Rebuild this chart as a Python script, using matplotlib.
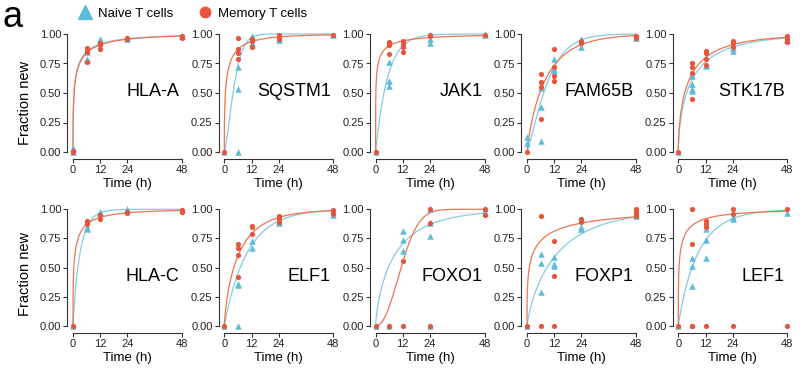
import numpy as np
import matplotlib
matplotlib.use("Agg")
import matplotlib.pyplot as plt
from matplotlib.lines import Line2D

plt.rcParams['font.family'] = ['Liberation Sans', 'DejaVu Sans']

# sampling times (h) and replicate values, one list per time point
times = [0, 6, 12, 24, 48]

hla_a_naive = [[0.03, 0.0], [0.85, 0.79, 0.78], [0.96, 0.95, 0.93], [0.97, 0.96], [0.98, 0.98]]
hla_a_memory = [[0.0, 0.01], [0.88, 0.86, 0.85, 0.76], [0.92, 0.91, 0.87], [0.97, 0.96], [0.98, 0.97]]
sqstm1_naive = [[0.0], [0.72, 0.53, 0.0], [0.98, 0.92, 0.91], [0.96, 0.95], [0.99]]
sqstm1_memory = [[0.0], [0.97, 0.87, 0.84, 0.79], [0.96, 0.94, 0.89], [0.99, 0.97, 0.96], [0.99]]
jak1_naive = [[0.0], [0.76, 0.60, 0.56], [0.92, 0.91], [0.96, 0.92], [0.99, 1.0]]
jak1_memory = [[0.0], [0.93, 0.92, 0.91, 0.83], [0.94, 0.92, 0.89, 0.85], [0.99, 0.98], [0.99]]
fam65b_naive = [[0.13, 0.08], [0.54, 0.38, 0.09], [0.79, 0.70, 0.69], [0.96, 0.89], [0.97]]
fam65b_memory = [[0.0], [0.66, 0.59, 0.55, 0.28], [0.87, 0.72, 0.64, 0.60], [0.94, 0.92], [0.98, 0.97]]
stk17b_naive = [[0.0], [0.64, 0.58, 0.53, 0.52], [0.74, 0.73], [0.88, 0.86], [0.96, 0.95]]
stk17b_memory = [[0.0], [0.75, 0.72, 0.67, 0.45], [0.86, 0.84, 0.79, 0.74], [0.94, 0.92, 0.89], [0.98, 0.96, 0.93]]
hla_c_naive = [[0.0], [0.85, 0.83], [0.98, 0.97], [1.0], [0.99]]
hla_c_memory = [[0.0], [0.90, 0.89, 0.87], [0.95, 0.92], [0.98, 0.97], [0.99, 0.98]]
elf1_naive = [[0.0], [0.36, 0.35, 0.0], [0.73, 0.67], [0.89, 0.88], [0.95]]
elf1_memory = [[0.0], [0.70, 0.67, 0.61, 0.42], [0.86, 0.85, 0.79], [0.94, 0.92, 0.89], [0.99, 0.97, 0.96]]
foxo1_naive = [[0.0], [0.0], [0.81, 0.74, 0.64], [1.0, 0.88, 0.77, 0.0], [1.0, 0.97]]
foxo1_memory = [[0.0], [0.0], [0.56, 0.0], [1.0, 0.88, 0.0], [1.0, 0.95]]
foxp1_naive = [[0.0], [0.62, 0.54, 0.29], [0.59, 0.53, 0.51], [0.85, 0.83], [0.94]]
foxp1_memory = [[0.0], [0.94, 0.0], [0.73, 0.43, 0.0], [0.92, 0.90, 0.89], [1.0, 0.98, 0.96, 0.94]]
lef1_naive = [[0.0], [0.58, 0.51, 0.34], [0.83, 0.74, 0.58], [0.93, 0.92], [0.97]]
lef1_memory = [[0.0], [1.0, 0.70, 0.0, 0.0], [0.90, 0.87, 0.85, 0.0], [1.0, 0.96, 0.0], [1.0, 0.0]]

# fitted curves: two (time, value) points each curve passes through
hla_a_fit = [(6, 0.85, 48, 0.985), (6, 0.84, 48, 0.983)]
sqstm1_fit = [(6, 0.73, 12, 0.97), (6, 0.87, 24, 0.975)]
jak1_fit = [(6, 0.68, 24, 0.99), (6, 0.90, 24, 0.97)]
fam65b_fit = [(6, 0.42, 24, 0.95), (6, 0.52, 24, 0.91)]
stk17b_fit = [(6, 0.61, 24, 0.89), (6, 0.66, 24, 0.91)]
hla_c_fit = [(6, 0.84, 12, 0.97), (6, 0.87, 24, 0.97)]
elf1_fit = [(6, 0.45, 24, 0.90), (6, 0.60, 24, 0.93)]
foxo1_fit = [(6, 0.52, 24, 0.87), (12, 0.55, 24, 0.97)]
foxp1_fit = [(6, 0.40, 48, 0.935), (6, 0.73, 48, 0.935)]
lef1_fit = [(6, 0.50, 24, 0.92), (6, 0.86, 24, 0.96)]

panels = [
    ('HLA-A', hla_a_naive, hla_a_memory, hla_a_fit),
    ('SQSTM1', sqstm1_naive, sqstm1_memory, sqstm1_fit),
    ('JAK1', jak1_naive, jak1_memory, jak1_fit),
    ('FAM65B', fam65b_naive, fam65b_memory, fam65b_fit),
    ('STK17B', stk17b_naive, stk17b_memory, stk17b_fit),
    ('HLA-C', hla_c_naive, hla_c_memory, hla_c_fit),
    ('ELF1', elf1_naive, elf1_memory, elf1_fit),
    ('FOXO1', foxo1_naive, foxo1_memory, foxo1_fit),
    ('FOXP1', foxp1_naive, foxp1_memory, foxp1_fit),
    ('LEF1', lef1_naive, lef1_memory, lef1_fit),
]

naive_col = '#5cbdd8'
memory_col = '#e8533b'
naive_line = '#86cbe2'
memory_line = '#f0734f'
axis_col = '#333333'


def weibull_curve(t, anchor):
    t1, f1, t2, f2 = anchor
    l1 = -np.log(1 - f1)
    l2 = -np.log(1 - f2)
    k = np.log(l2 / l1) / np.log(t2 / t1)
    lam = t1 / l1 ** (1.0 / k)
    return 1 - np.exp(-(t / lam) ** k)


def flatten(vals):
    xs, ys = [], []
    for t, v in zip(times, vals):
        xs += [t] * len(v)
        ys += v
    return xs, ys


W, H = 800, 371
fig = plt.figure(figsize=(W / 100, H / 100), dpi=100)

tt = np.concatenate([[0], np.geomspace(1e-3, 48, 800)])
px_per_h = 2.27
x0s = [73, 224.3, 375.6, 527, 678.3]
rows = [(152, 118, 0.51), (326, 116.7, 0.42)]

for i, (gene, naive, memory, fit) in enumerate(panels):
    r, c = divmod(i, 5)
    ybase, ypx, label_y = rows[r]
    left = x0s[c] - 0.6 * px_per_h
    width = 49.2 * px_per_h
    bottom = ybase + 0.02 * ypx
    height = 1.04 * ypx
    ax = fig.add_axes([left / W, 1 - bottom / H, width / W, height / H])
    ax.set_xlim(-0.6, 48.6)
    ax.set_ylim(-0.02, 1.02)

    ax.plot(tt, weibull_curve(tt, fit[0]), color=naive_line, lw=0.9, clip_on=False)
    ax.plot(tt, weibull_curve(tt, fit[1]), color=memory_line, lw=0.9, clip_on=False)
    xs, ys = flatten(naive)
    ax.scatter(xs, ys, marker='^', s=22, color=naive_col, lw=0, clip_on=False, zorder=3)
    xs, ys = flatten(memory)
    ax.scatter(xs, ys, marker='o', s=14, color=memory_col, lw=0, clip_on=False, zorder=4)

    ax.text(47.0, label_y, gene, ha='right', va='center', fontsize=13)

    for s in ['top', 'right']:
        ax.spines[s].set_visible(False)
    for s in ['left', 'bottom']:
        ax.spines[s].set_position(('outward', 3))
        ax.spines[s].set_color(axis_col)
        ax.spines[s].set_linewidth(0.8)
    ax.spines['left'].set_bounds(0, 1)
    ax.spines['bottom'].set_bounds(0, 48)
    ax.set_xticks([0, 12, 24, 48])
    ax.set_yticks([0, 0.25, 0.5, 0.75, 1.0])
    ax.set_yticklabels(['0.00', '0.25', '0.50', '0.75', '1.00'])
    ax.tick_params(direction='out', length=3, width=0.8, color=axis_col,
                   labelsize=8, pad=1.5, labelcolor='#222222')
    ax.set_xlabel('Time (h)', fontsize=9.5, labelpad=2)

fig.text(25 / W, 1 - 103 / H, 'Fraction new', rotation=90, ha='center', va='center', fontsize=10.5)
fig.text(25 / W, 1 - 274 / H, 'Fraction new', rotation=90, ha='center', va='center', fontsize=10.5)
fig.text(3 / W, 1 - 27 / H, 'a', fontsize=26, va='baseline', ha='left')

handles = [
    Line2D([], [], marker='^', color=naive_col, ls='', markersize=9.5),
    Line2D([], [], marker='o', color=memory_col, ls='', markersize=7.5),
]
fig.legend(handles, ['Naive T cells', 'Memory T cells'], loc='center left',
           bbox_to_anchor=(78 / W, 1 - 14 / H), ncol=2, frameon=False,
           fontsize=9.5, handlelength=1, handletextpad=0.5, columnspacing=1.9,
           borderpad=0, borderaxespad=0)

fig.savefig('out.png', dpi=100)
